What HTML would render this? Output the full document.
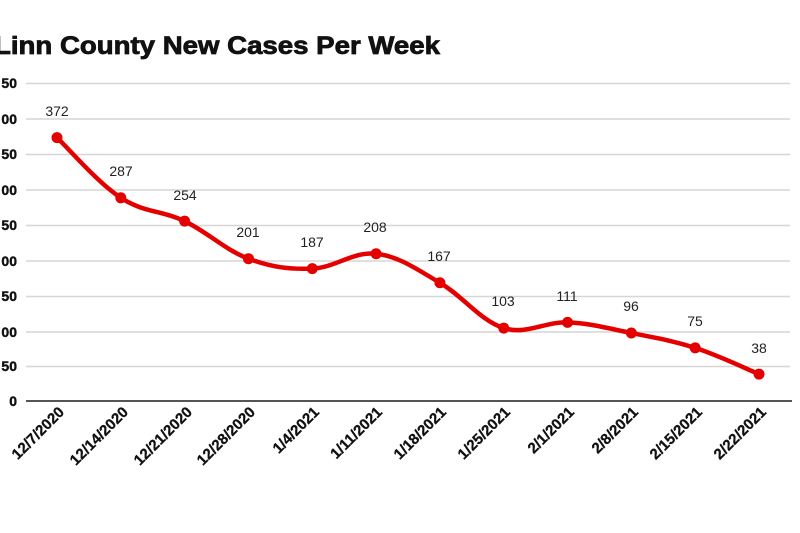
<!DOCTYPE html>
<html><head><meta charset="utf-8"><style>
html,body{margin:0;padding:0;background:#fff;width:800px;height:533px;overflow:hidden}
svg{display:block}
text{font-family:"Liberation Sans",Arial,sans-serif}
</style></head><body>
<svg id="s" width="800" height="533" viewBox="0 0 800 533">
<text x="-6" y="54" font-size="25" font-weight="bold" fill="#111" stroke="#111" stroke-width="0.8" textLength="446" lengthAdjust="spacingAndGlyphs">Linn County New Cases Per Week</text>
<g stroke="#d6d6d6" stroke-width="1.5">
<line x1="26" x2="790" y1="83.5" y2="83.5"/><line x1="26" x2="790" y1="119" y2="119"/>
<line x1="26" x2="790" y1="154.5" y2="154.5"/><line x1="26" x2="790" y1="190" y2="190"/>
<line x1="26" x2="790" y1="225.5" y2="225.5"/><line x1="26" x2="790" y1="261" y2="261"/>
<line x1="26" x2="790" y1="296.5" y2="296.5"/><line x1="26" x2="790" y1="332" y2="332"/>
<line x1="26" x2="790" y1="366.5" y2="366.5"/>
</g>
<line x1="26" x2="792" y1="401" y2="401" stroke="#555" stroke-width="2"/>
<g font-size="14" font-weight="bold" fill="#111" text-anchor="end" stroke="#111" stroke-width="0.4">
<text x="17" y="88">50</text><text x="17" y="124">00</text><text x="17" y="159">50</text>
<text x="17" y="195">00</text><text x="17" y="230">50</text><text x="17" y="266">00</text>
<text x="17" y="301">50</text><text x="17" y="337">00</text><text x="17" y="371">50</text>
<text x="17" y="406">0</text>
</g>
<g font-size="15" font-weight="bold" fill="#111" text-anchor="end" stroke="#111" stroke-width="0.3">
<text transform="translate(65,413) rotate(-45)">12/7/2020</text>
<text transform="translate(129,413) rotate(-45)">12/14/2020</text>
<text transform="translate(193,413) rotate(-45)">12/21/2020</text>
<text transform="translate(256,413) rotate(-45)">12/28/2020</text>
<text transform="translate(320,413) rotate(-45)">1/4/2021</text>
<text transform="translate(383,413) rotate(-45)">1/11/2021</text>
<text transform="translate(447,413) rotate(-45)">1/18/2021</text>
<text transform="translate(511,413) rotate(-45)">1/25/2021</text>
<text transform="translate(575,413) rotate(-45)">2/1/2021</text>
<text transform="translate(639,413) rotate(-45)">2/8/2021</text>
<text transform="translate(703,413) rotate(-45)">2/15/2021</text>
<text transform="translate(767,413) rotate(-45)">2/22/2021</text>
</g>
<g font-size="14" fill="#222" text-anchor="middle">
<text x="57" y="116">372</text><text x="121" y="176">287</text><text x="185" y="200">254</text>
<text x="248" y="237">201</text><text x="312" y="247">187</text><text x="375" y="232">208</text>
<text x="439" y="261">167</text><text x="503" y="306">103</text><text x="567" y="301">111</text>
<text x="631" y="311">96</text><text x="695" y="326">75</text><text x="759" y="353">38</text>
</g>
<path id="p" fill="none" stroke="#e50000" stroke-width="4.5" stroke-linejoin="round"/>
<g id="d" fill="#e50000"></g>
</svg>
<script>
var v=[372,287,254,201,187,208,167,103,111,96,75,38];
var P=v.map(function(a,i){return [57+i*63.82,401-a*0.708];});
var d="M"+P[0][0]+","+P[0][1];
for(var i=0;i<P.length-1;i++){
 var p0=P[i-1]||P[i],p1=P[i],p2=P[i+1],p3=P[i+2]||P[i+1],t=0.18;
 var c1=[p1[0]+(p2[0]-p0[0])*t,p1[1]+(p2[1]-p0[1])*t];
 var c2=[p2[0]-(p3[0]-p1[0])*t,p2[1]-(p3[1]-p1[1])*t];
 d+=" C"+c1+" "+c2+" "+p2;
}
document.getElementById("p").setAttribute("d",d);
var g=document.getElementById("d");
P.forEach(function(p){var c=document.createElementNS("http://www.w3.org/2000/svg","circle");
c.setAttribute("cx",p[0]);c.setAttribute("cy",p[1]);c.setAttribute("r",5.5);g.appendChild(c);});
</script>
</body></html>
